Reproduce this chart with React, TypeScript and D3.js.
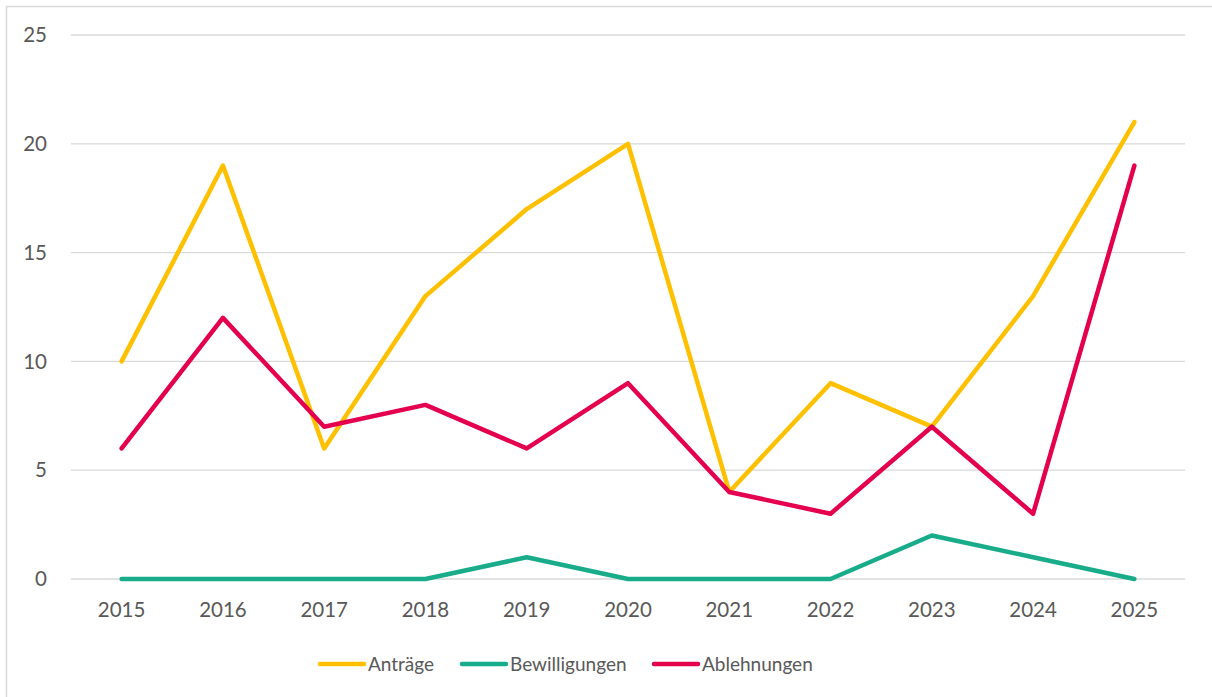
import React, { useEffect, useRef } from "react";
import * as d3 from "d3";

const years = ["2015", "2016", "2017", "2018", "2019", "2020", "2021", "2022", "2023", "2024", "2025"];
const antraege = [10, 19, 6, 13, 17, 20, 4, 9, 7, 13, 21];
const bewilligungen = [0, 0, 0, 0, 1, 0, 0, 0, 2, 1, 0];
const ablehnungen = [6, 12, 7, 8, 6, 9, 4, 3, 7, 3, 19];
const yTicks = [0, 5, 10, 15, 20, 25];

const series = [
  { name: "Anträge", values: antraege, color: "#FFC000" },
  { name: "Bewilligungen", values: bewilligungen, color: "#19AC8A" },
  { name: "Ablehnungen", values: ablehnungen, color: "#E4004F" },
];

const W = 1212;
const H = 697;
const font = "Lato, 'Open Sans', sans-serif";

export default function App() {
  const ref = useRef<SVGSVGElement>(null);

  useEffect(() => {
    const svg = d3.select(ref.current);
    svg.selectAll("*").remove();

    // chart frame
    svg.append("rect")
      .attr("x", 6.5).attr("y", 6.5)
      .attr("width", W).attr("height", H)
      .attr("fill", "#fff")
      .attr("stroke", "#d9d9d9")
      .attr("stroke-width", 1.5);

    const x = d3.scaleBand().domain(years).range([71, 1185]);
    const cx = (d: string) => (x(d) as number) + x.bandwidth() / 2;
    const y = d3.scaleLinear().domain([0, 25]).range([579, 35]);

    // grid
    svg.append("g").selectAll("line")
      .data(yTicks)
      .join("line")
      .attr("x1", 71).attr("x2", 1185)
      .attr("y1", d => y(d)).attr("y2", d => y(d))
      .attr("stroke", "#d9d9d9")
      .attr("stroke-width", 1.3);

    // y labels
    svg.append("g").selectAll("text")
      .data(yTicks)
      .join("text")
      .attr("x", 47)
      .attr("y", d => y(d))
      .attr("dy", "0.35em")
      .attr("text-anchor", "end")
      .attr("font-family", font)
      .attr("font-size", 20.5)
      .attr("fill", "#595959")
      .text(d => d);

    // x labels
    svg.append("g").selectAll("text")
      .data(years)
      .join("text")
      .attr("x", d => cx(d))
      .attr("y", 617)
      .attr("text-anchor", "middle")
      .attr("font-family", font)
      .attr("font-size", 20.5)
      .attr("fill", "#595959")
      .text(d => d);

    const line = d3.line<number>()
      .x((d, i) => cx(years[i]))
      .y(d => y(d));

    series.forEach(s => {
      svg.append("path")
        .datum(s.values)
        .attr("d", line)
        .attr("fill", "none")
        .attr("stroke", s.color)
        .attr("stroke-width", 4.5)
        .attr("stroke-linejoin", "round")
        .attr("stroke-linecap", "round");
    });

    // legend
    const legendX = [318, 460, 652];
    const lg = svg.append("g").selectAll("g")
      .data(series)
      .join("g")
      .attr("transform", (d, i) => `translate(${legendX[i]},664)`);
    lg.append("line")
      .attr("x1", 2).attr("x2", 46)
      .attr("stroke", d => d.color)
      .attr("stroke-width", 4.5)
      .attr("stroke-linecap", "round");
    lg.append("text")
      .attr("x", 50)
      .attr("dy", "0.35em")
      .attr("font-family", font)
      .attr("font-size", 19)
      .attr("fill", "#595959")
      .text(d => d.name);
  }, []);

  return (
    <svg ref={ref} width={W} height={H} style={{ position: "absolute", left: 0, top: 0 }} />
  );
}
